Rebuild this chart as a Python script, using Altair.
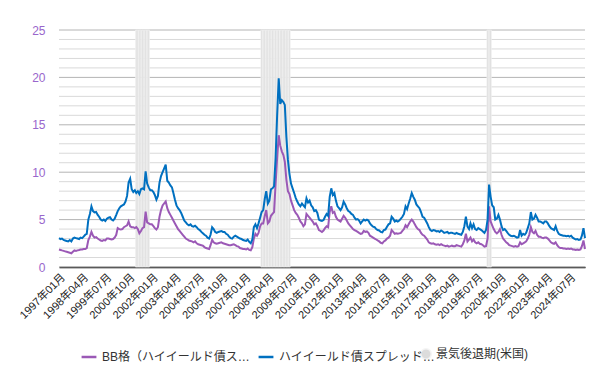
import altair as alt
import pandas as pd

BB_NAME = "BB格（ハイイールド債スプレッド）"
HY_NAME = "ハイイールド債スプレッド（全体）"
REC_NAME = "景気後退期(米国)"

# monthly values, 1997-01 .. 2025-05
hy_spread = [
    3.05, 2.95, 3.0, 2.85, 2.8, 2.75, 2.7, 2.85, 2.7, 3.0, 3.1, 3.05,      # 1997
    3.0, 2.95, 3.1, 3.05, 3.2, 3.4, 3.5, 5.0, 5.6, 6.4, 5.9, 5.75,         # 1998
    5.8, 5.5, 5.3, 5.0, 4.9, 5.0, 4.85, 5.1, 5.2, 5.25, 5.0, 4.9,          # 1999
    5.1, 5.5, 5.9, 6.2, 6.4, 6.5, 6.6, 6.9, 7.5, 8.9, 9.3, 8.2,            # 2000
    7.9, 8.1, 7.8, 8.0, 7.7, 8.2, 8.3, 8.2, 10.1, 8.8, 8.4, 8.1,           # 2001
    8.1, 7.9, 7.6, 7.1, 7.5, 8.9, 9.6, 10.0, 10.4, 10.8, 9.1, 8.9,         # 2002
    8.6, 8.4, 7.8, 7.1, 6.5, 6.2, 6.0, 5.7, 5.3, 4.9, 4.7, 4.5,            # 2003
    4.4, 4.5, 4.3, 4.25, 4.35, 4.2, 4.0, 3.9, 3.7, 3.55, 3.4, 3.3,         # 2004
    3.1, 3.0, 3.4, 4.2, 4.0, 3.7, 3.6, 3.7, 3.75, 3.8, 3.7, 3.7,           # 2005
    3.5, 3.4, 3.2, 3.05, 3.0, 3.2, 3.3, 3.2, 3.1, 3.0, 2.95, 2.85,         # 2006
    2.8, 2.75, 2.9, 2.65, 2.5, 2.9, 4.2, 4.5, 4.1, 4.6, 5.2, 5.8,          # 2007
    6.0, 7.2, 8.0, 6.7, 7.0, 8.2, 8.3, 8.5, 11.5, 16.0, 19.9, 17.2,        # 2008
    17.6, 17.4, 17.1, 13.7, 11.3, 9.8, 8.8, 8.3, 7.8, 7.3, 6.9, 6.6,       # 2009
    6.4, 6.7, 6.5, 6.3, 7.25, 6.8, 7.0, 6.5, 6.3, 5.9, 6.0, 5.7,           # 2010
    5.0, 4.9, 4.85, 4.95, 5.3, 5.6, 5.4, 7.4, 8.3, 7.6, 7.8, 7.0,          # 2011
    6.4, 6.2, 6.0, 6.3, 6.9, 6.6, 6.2, 5.9, 5.8, 5.6, 5.5, 5.2,            # 2012
    5.0, 5.05, 4.9, 4.6, 4.8, 5.0, 4.9, 5.0, 4.9, 4.6, 4.4, 4.25,          # 2013
    4.2, 4.0, 3.9, 3.85, 3.7, 3.65, 3.9, 3.95, 4.25, 4.5, 4.6, 5.3,        # 2014
    5.1, 4.8, 4.9, 4.8, 4.9, 5.1, 5.3, 5.6, 6.4, 6.1, 6.7, 7.2,            # 2015
    7.8, 7.4, 7.1, 6.6, 6.4, 6.2, 5.8, 5.3, 5.2, 4.9, 4.6, 4.2,            # 2016
    3.9, 3.8, 3.9, 3.85, 3.75, 3.8, 3.7, 3.85, 3.75, 3.6, 3.65, 3.7,       # 2017
    3.55, 3.6, 3.6, 3.55, 3.5, 3.6, 3.5, 3.45, 3.4, 3.7, 4.3, 5.3,         # 2018
    4.25, 4.0, 4.6, 4.1, 4.5, 4.0, 3.9, 4.1, 4.0, 3.9, 3.75, 3.6,          # 2019
    3.9, 5.0, 8.7, 7.4, 6.5, 6.3, 5.0, 5.1, 5.5, 5.0, 4.3, 3.9,            # 2020
    4.0, 3.8, 3.6, 3.4, 3.3, 3.25, 3.3, 3.2, 3.1, 3.15, 3.9, 3.3,          # 2021
    3.5, 3.4, 3.6, 4.1, 4.6, 5.8, 5.0, 5.1, 5.5, 5.2, 4.8, 4.8,            # 2022
    4.7, 4.6, 4.8, 4.8, 4.6, 4.3, 4.1, 4.0, 3.9, 4.3, 3.8, 3.5,            # 2023
    3.4, 3.35, 3.3, 3.3, 3.25, 3.3, 3.2, 3.3, 3.1, 3.0, 2.9, 2.95,         # 2024
    2.85, 2.9, 3.3, 4.1, 3.05,                                             # 2025
]

bb_spread = [
    1.85, 1.8, 1.75, 1.7, 1.65, 1.6, 1.55, 1.5, 1.45, 1.6, 1.75, 1.7,      # 1997
    1.75, 1.8, 1.85, 1.85, 1.9, 1.9, 2.0, 2.85, 3.2, 3.7, 3.3, 3.1,        # 1998
    3.15, 3.0, 2.9, 2.8, 2.75, 2.85, 2.8, 3.0, 3.0, 2.95, 2.9, 2.95,       # 1999
    3.1, 3.4, 4.1, 4.0, 3.95, 4.0, 4.2, 4.3, 4.4, 4.8, 4.3, 4.2,           # 2000
    4.2, 4.1, 4.2, 4.0, 3.55, 3.8, 4.1, 4.2, 5.85, 4.7, 4.6, 4.5,          # 2001
    4.5, 4.3, 4.1, 3.95, 4.2, 5.3, 6.0, 6.5, 6.7, 6.9, 6.2, 5.8,           # 2002
    5.5, 5.2, 4.9, 4.6, 4.3, 4.0, 3.8, 3.6, 3.4, 3.2, 3.0, 2.9,            # 2003
    2.8, 2.75, 2.7, 2.6, 2.7, 2.5, 2.4, 2.35, 2.3, 2.25, 2.1, 2.0,         # 2004
    1.95, 1.9, 2.3, 2.85, 2.6, 2.5, 2.45, 2.5, 2.55, 2.6, 2.5, 2.45,       # 2005
    2.4, 2.35, 2.3, 2.3, 2.35, 2.4, 2.3, 2.2, 2.15, 2.0, 1.95, 1.9,        # 2006
    1.9, 1.85, 1.95, 1.8, 1.75, 2.1, 3.0, 3.5, 3.3, 3.6, 4.3, 4.6,         # 2007
    4.6, 5.4, 6.0, 4.6, 4.8, 5.4, 5.6, 5.8, 8.8, 11.5, 13.9, 12.8,         # 2008
    12.2, 11.8, 11.1, 9.2, 8.0, 7.7, 7.0, 6.5, 6.0, 5.7, 5.5, 5.2,         # 2009
    4.8, 4.6, 4.3, 4.5, 5.6, 5.4, 5.2, 5.0, 4.8, 4.5, 4.6, 4.3,            # 2010
    3.9, 3.8, 3.7, 3.85, 4.1, 4.3, 4.2, 5.8, 6.4, 5.7, 5.8, 5.3,           # 2011
    5.0, 4.9, 4.8, 5.1, 5.4, 5.2, 4.9, 4.6, 4.4, 4.2, 4.0, 3.9,            # 2012
    3.8, 3.7, 3.6, 3.5, 3.55, 3.8, 3.7, 3.75, 3.6, 3.3, 3.2, 3.1,          # 2013
    3.0, 2.9, 2.8, 2.7, 2.55, 2.5, 2.7, 2.8, 3.0, 3.1, 3.3, 3.9,           # 2014
    3.7, 3.5, 3.55, 3.5, 3.55, 3.6, 3.8, 4.0, 4.4, 4.2, 4.5, 4.8,          # 2015
    5.0, 4.8, 4.5, 4.2, 4.0, 3.9, 3.6, 3.4, 3.3, 3.1, 2.9, 2.6,            # 2016
    2.5, 2.45, 2.5, 2.4, 2.35, 2.4, 2.3, 2.4, 2.3, 2.25, 2.2, 2.25,        # 2017
    2.15, 2.2, 2.25, 2.2, 2.2, 2.3, 2.25, 2.2, 2.15, 2.4, 2.8, 3.5,        # 2018
    2.7, 2.9, 3.1, 2.7, 2.9, 2.6, 2.5, 2.6, 2.45, 2.4, 2.3, 2.15,          # 2019
    2.2, 3.0, 6.4, 4.8, 4.4, 4.0, 3.7, 3.55, 3.7, 4.0, 3.4, 3.0,           # 2020
    2.8, 2.6, 2.5, 2.3, 2.25, 2.2, 2.15, 2.2, 2.15, 2.2, 2.6, 2.4,         # 2021
    2.5, 2.6, 2.7, 3.0, 3.4, 4.2, 3.7, 3.55, 3.8, 3.4, 3.2, 3.2,           # 2022
    3.1, 3.05, 3.1, 3.1, 3.0, 2.8, 2.6, 2.5, 2.45, 2.6, 2.3, 2.1,          # 2023
    2.0, 2.0, 1.95, 1.95, 1.9, 1.95, 1.9, 1.95, 1.85, 1.85, 1.8, 1.85,     # 2024
    1.8, 1.85, 2.2, 2.8, 1.9,                                              # 2025
]

# US recession months (NBER)
recession_ranges = [("2001-03", "2001-11"), ("2007-12", "2009-06"), ("2020-02", "2020-04")]

# x-axis tick labels (every 15 months)
tick_months = ["1997-01", "1998-04", "1999-07", "2000-10", "2002-01", "2003-04",
               "2004-07", "2005-10", "2007-01", "2008-04", "2009-07", "2010-10",
               "2012-01", "2013-04", "2014-07", "2015-10", "2017-01", "2018-04",
               "2019-07", "2020-10", "2022-01", "2023-04", "2024-07"]

y_ticks = list(range(0, 26))

n = len(hy_spread)
months = pd.date_range("1997-01-01", periods=n, freq="MS")
month_str = months.strftime("%Y-%m-%d").tolist()

lines = pd.DataFrame({
    "date": month_str * 2,
    "value": bb_spread + hy_spread,
    "series": [BB_NAME] * n + [HY_NAME] * n,
})

rec_rows = []
for a, b in recession_ranges:
    for m in pd.date_range(a + "-01", b + "-01", freq="MS"):
        rec_rows.append({
            "start": (m - pd.Timedelta(days=15)).strftime("%Y-%m-%d"),
            "end": (m + pd.Timedelta(days=15)).strftime("%Y-%m-%d"),
            "label": REC_NAME,
        })
rec = pd.DataFrame(rec_rows)
grid = pd.DataFrame({"v": y_ticks})

FONT = "Liberation Sans, Noto Sans CJK JP"

tick_values = [alt.DateTime(year=int(t[:4]), month=int(t[5:]), date=1, utc=True) for t in tick_months]
x_scale = alt.Scale(type="utc", nice=False,
                    domain=[alt.DateTime(year=1997, month=1, date=1, utc=True),
                            alt.DateTime(year=2025, month=5, date=1, utc=True)])
y_scale = alt.Scale(domain=[0, 25], nice=False)

x_axis = alt.Axis(title=None, values=tick_values,
                  labelExpr="utcFormat(datum.value, '%Y年%m月')",
                  labelAngle=-45, labelFontSize=11, labelFont=FONT, labelColor="#222",
                  ticks=False, grid=False, domainColor="#000", domainWidth=1.5,
                  labelPadding=4, labelOverlap=False)
y_axis = alt.Axis(title=None, values=y_ticks,
                  labelExpr="datum.value % 5 === 0 ? datum.label : ''",
                  labelColor="#9966cc", labelFontSize=12, labelFont=FONT,
                  labelOverlap=False, ticks=False, domain=False, grid=False, labelPadding=14)

gridlayer = alt.Chart(grid).mark_rule(strokeWidth=1).encode(
    y=alt.Y("v:Q", scale=y_scale, axis=y_axis),
    color=alt.condition("datum.v % 5 === 0", alt.value("#b4b4b4"), alt.value("#d9d9d9")),
)

rect = alt.Chart(rec).mark_rect(stroke="#f4f4f4", strokeWidth=0.6).encode(
    x=alt.X("start:T", scale=x_scale, axis=x_axis),
    x2="end:T",
    y=alt.datum(0, scale=y_scale, axis=y_axis),
    y2=alt.datum(25),
    fill=alt.Fill("label:N", scale=alt.Scale(range=["#dcdcdc"]),
                  legend=alt.Legend(title=None, orient="none", legendX=361, legendY=318,
                                    direction="horizontal", symbolType="circle",
                                    symbolSize=110, labelFontSize=12, labelFont=FONT,
                                    labelColor="#333", padding=0)),
)

line = alt.Chart(lines).mark_line(strokeWidth=2).encode(
    x=alt.X("date:T", scale=x_scale, axis=x_axis),
    y=alt.Y("value:Q", scale=y_scale, axis=y_axis),
    color=alt.Color("series:N",
                    scale=alt.Scale(domain=[BB_NAME, HY_NAME], range=["#9b59b6", "#0070c0"]),
                    legend=alt.Legend(title=None, orient="none", legendX=21, legendY=318,
                                      direction="horizontal", symbolType="stroke",
                                      symbolStrokeWidth=2.5, symbolSize=220, labelLimit=158,
                                      labelFontSize=12, labelFont=FONT, labelColor="#333",
                                      padding=0, columnPadding=2)),
    order="series:N",
)

chart = alt.layer(gridlayer, rect, line).resolve_scale(fill="independent", color="independent").properties(
    width=526, height=237,
    autosize=alt.AutoSizeParams(type="none"),
    padding={"left": 51, "top": 22, "right": 22, "bottom": 100},
).configure_view(stroke=None)

chart.save("out.html", embed_options={"renderer": "svg", "actions": False})
